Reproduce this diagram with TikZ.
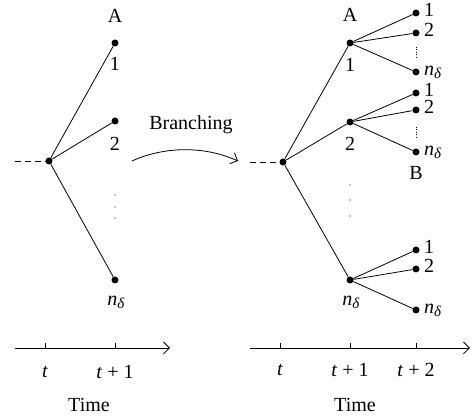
\documentclass[tikz,border=0pt]{standalone}
\usepackage{fontspec}
\setmainfont{Liberation Serif}
\usetikzlibrary{arrows.meta}
\newcommand{\nd}{\textit{n}\raisebox{-0.3ex}{\fontsize{15}{16}\selectfont\textit{δ}}}
\newcommand{\ti}{\textit{t}}
\begin{document}
\begin{tikzpicture}[x=1pt,y=-1pt,
  dot/.style={circle,fill=black,inner sep=0pt,minimum size=7pt},
  lbl/.style={inner sep=0pt,font=\fontsize{20}{22}\selectfont},
  edge/.style={line width=0.8pt},
  dsh/.style={line width=0.8pt,dash pattern=on 6pt off 4pt},
  axis/.style={line width=0.8pt,-{Straight Barb[length=6pt,width=12pt,line width=0.8pt]}},
  tick/.style={line width=0.8pt},
  vdots/.style={circle,fill=black,inner sep=0pt,minimum size=1.2pt}]
\useasboundingbox (0,0) rectangle (475,419);

% ---------- left tree ----------
\coordinate (ld) at (15,161);
\node[dot] (L0) at (49,161) {};
\node[dot] (L1) at (115,43) {};
\node[dot] (L2) at (115,121) {};
\node[dot] (Ln) at (115,280) {};
\draw[dsh] (ld) -- (L0);
\draw[edge] (L0) -- (L1);
\draw[edge] (L0) -- (L2);
\draw[edge] (L0) -- (Ln);
\node[lbl] (LA) at (115,16) {A};
\node[lbl] (L1t) at (115,64) {1};
\node[lbl] (L2t) at (115,144) {2};
\node[lbl] (Lnt) at (116,302) {\nd};
\node[vdots] (Ld1) at (115,195) {};
\node[vdots] (Ld2) at (115,207) {};
\node[vdots] (Ld3) at (115,218) {};

% left axis
\coordinate (la0) at (15,348);
\coordinate (la1) at (170,348);
\draw[axis] (la0) -- (la1);
\coordinate (lt0) at (45,348);
\coordinate (lt0u) at (45,343);
\coordinate (lt1) at (115,348);
\coordinate (lt1u) at (115,343);
\draw[tick] (lt0) -- (lt0u);
\draw[tick] (lt1) -- (lt1u);
\node[lbl] (ltl0) at (45,372) {\ti};
\node[lbl] (ltl1) at (115,372) {\ti{} + 1};
\node[lbl] (ltime) at (89,405) {Time};

% branching arrow
\coordinate (b0) at (132,161);
\coordinate (b1) at (238,161);
\draw[axis] (b0) .. controls (165,146) and (205,146) .. (b1);
\node[lbl] (br) at (191,125) {Branching};

% ---------- right tree ----------
\coordinate (rd) at (250,162);
\node[dot] (R0) at (283,162) {};
\node[dot] (R1) at (350,43) {};
\node[dot] (R2) at (350,122) {};
\node[dot] (Rn) at (350,280) {};
\draw[dsh] (rd) -- (R0);
\draw[edge] (R0) -- (R1);
\draw[edge] (R0) -- (R2);
\draw[edge] (R0) -- (Rn);
\node[lbl] (RA) at (350,15) {A};
\node[lbl] (R1t) at (350,65) {1};
\node[lbl] (R2t) at (350,144) {2};
\node[lbl] (Rnt) at (351,302) {\nd};
\node[vdots] (Rd1) at (350,185) {};
\node[vdots] (Rd2) at (350,200) {};
\node[vdots] (Rd3) at (350,216) {};

% grandchildren
\node[dot] (G11) at (416,13) {};
\node[dot] (G12) at (416,33) {};
\node[dot] (G1n) at (416,72) {};
\node[dot] (G21) at (416,93) {};
\node[dot] (G22) at (416,110) {};
\node[dot] (G2n) at (416,152) {};
\node[dot] (Gn1) at (416,250) {};
\node[dot] (Gn2) at (416,269) {};
\node[dot] (Gnn) at (416,310) {};
\foreach \p/\c in {R1/G11,R1/G12,R1/G1n,R2/G21,R2/G22,R2/G2n,Rn/Gn1,Rn/Gn2,Rn/Gnn}
  \draw[edge] (\p) -- (\c);
\foreach \c/\t in {G11/1,G12/2,G1n/{\nd},G21/1,G22/2,G2n/{\nd},Gn1/1,Gn2/2,Gnn/{\nd}}
  \node[lbl,anchor=west,text height=1.3ex,text depth=0pt] (\c t) at ([xshift=8pt,yshift=-1pt]\c.center) {\t};
\coordinate (g1a) at (416,47);
\coordinate (g1b) at (416,59);
\coordinate (g2a) at (416,127);
\coordinate (g2b) at (416,139);
\draw[line width=0.5pt,dotted] (g1a) -- (g1b);
\draw[line width=0.5pt,dotted] (g2a) -- (g2b);
\node[lbl] (RB) at (416,173) {B};

% right axis
\coordinate (ra0) at (250,348);
\coordinate (ra1) at (470,348);
\draw[axis] (ra0) -- (ra1);
\foreach \x/\n in {280/a,350/b,416/c}{
  \coordinate (rt\n) at (\x,348);
  \coordinate (rt\n u) at (\x,343);
  \draw[tick] (rt\n) -- (rt\n u);
}
\node[lbl] (rtl0) at (280,370) {\ti};
\node[lbl] (rtl1) at (350,370) {\ti{} + 1};
\node[lbl] (rtl2) at (416,370) {\ti{} + 2};
\node[lbl] (rtime) at (355,405) {Time};
\end{tikzpicture}
\end{document}
